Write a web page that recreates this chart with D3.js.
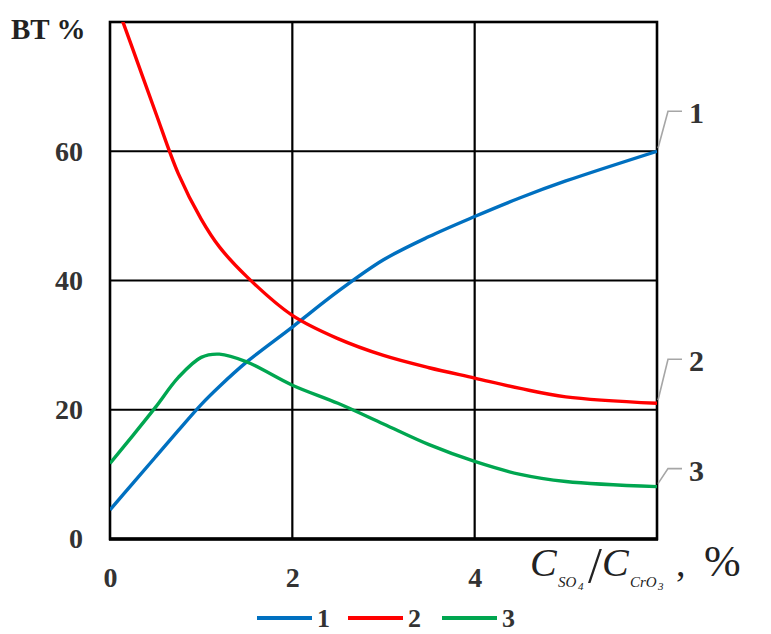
<!DOCTYPE html>
<html>
<head>
<meta charset="utf-8">
<script src="https://cdn.jsdelivr.net/npm/d3@7"></script>
<style>
  html, body { margin: 0; padding: 0; background: #ffffff; }
  svg { display: block; }
</style>
</head>
<body>
<svg id="chart" width="771" height="634"></svg>
<script>
// Ratio C(SO4)/C(CrO3), %
const xValues = [0, 0.25, 0.5, 0.75, 1, 1.2, 1.5, 2, 2.5, 3, 3.5, 4, 4.5, 5, 6];
// Curve 1 (blue)
const series1 = [4.5, 8.6, 12.7, 16.8, 20.8, 23.6, 27.4, 32.8, 38.3, 43.2, 46.8, 49.9, 52.8, 55.4, 60];
// Curve 2 (red)
const series2 = [85.5, 75.8, 66, 56.5, 49.5, 45.2, 40.6, 34.6, 31, 28.4, 26.5, 24.9, 23.3, 22, 21];
// Curve 3 (green)
const series3 = [11.7, 16, 20.4, 25, 28.1, 28.6, 27.4, 23.8, 21, 17.8, 14.6, 12, 10, 8.9, 8.1];

const seriesNames = ["1", "2", "3"];
const seriesColors = ["#0070c0", "#ff0000", "#00a650"];
const xTicks = [0, 2, 4];
const yTicks = [0, 20, 40, 60];
const xGrid = [2, 4];
const yGrid = [20, 40, 60];

const allSeries = [series1, series2, series3];

const svg = d3.select("#chart");
const x = d3.scaleLinear().domain([0, 6]).range([110, 657]);
const y = d3.scaleLinear().domain([0, 80]).range([539, 22]);

const serif = "'Liberation Serif', 'Times New Roman', serif";

svg.append("defs").append("clipPath").attr("id", "plot-clip")
  .append("rect")
  .attr("x", x(0)).attr("y", y(80))
  .attr("width", x(6) - x(0)).attr("height", y(0) - y(80));

// Grid lines
const grid = svg.append("g").attr("stroke", "#000").attr("stroke-width", 2.2);
grid.selectAll("line.v").data(xGrid).join("line")
  .attr("class", "v")
  .attr("x1", d => x(d)).attr("x2", d => x(d))
  .attr("y1", y(80)).attr("y2", y(0));
grid.selectAll("line.h").data(yGrid).join("line")
  .attr("class", "h")
  .attr("x1", x(0)).attr("x2", x(6))
  .attr("y1", d => y(d)).attr("y2", d => y(d));

// Plot frame
svg.append("rect")
  .attr("x", x(0)).attr("y", y(80))
  .attr("width", x(6) - x(0)).attr("height", y(0) - y(80))
  .attr("fill", "none").attr("stroke", "#000").attr("stroke-width", 2.6);
svg.append("line")
  .attr("x1", x(0) - 1).attr("x2", x(6) + 1)
  .attr("y1", y(0)).attr("y2", y(0))
  .attr("stroke", "#000").attr("stroke-width", 3.4);

// Axes (labels only)
const xAxis = svg.append("g")
  .attr("transform", `translate(0,${y(0)})`)
  .call(d3.axisBottom(x).tickValues(xTicks).tickSize(0).tickPadding(28).tickFormat(d3.format("d")));
const yAxis = svg.append("g")
  .attr("transform", `translate(${x(0)},0)`)
  .call(d3.axisLeft(y).tickValues(yTicks).tickSize(0).tickPadding(27).tickFormat(d3.format("d")));
[xAxis, yAxis].forEach(g => {
  g.select(".domain").remove();
  g.selectAll("text")
    .attr("fill", "#333")
    .style("font-family", serif)
    .style("font-weight", "bold")
    .style("font-size", "28px");
});

// Curves
const line = d3.line()
  .x((d, i) => x(xValues[i]))
  .y(d => y(d))
  .curve(d3.curveCatmullRom.alpha(0.5));

svg.append("g").attr("clip-path", "url(#plot-clip)")
  .selectAll("path").data(allSeries).join("path")
  .attr("d", line)
  .attr("fill", "none")
  .attr("stroke", (d, i) => seriesColors[i])
  .attr("stroke-width", 3.4)
  .attr("stroke-linejoin", "round");

// Curve end labels with leader lines
const endLabels = svg.append("g");
const leaderRise = [40, 44, 18];
allSeries.forEach((s, i) => {
  const xe = x(xValues[xValues.length - 1]);
  const ye = y(s[s.length - 1]);
  const yTop = ye - leaderRise[i];
  endLabels.append("path")
    .attr("d", `M${xe + 1},${ye - 3}L${xe + 11},${yTop}L${xe + 25},${yTop}`)
    .attr("fill", "none").attr("stroke", "#a6a6a6").attr("stroke-width", 1.6);
  endLabels.append("text")
    .attr("x", xe + 32).attr("y", yTop + 12)
    .attr("fill", "#333")
    .style("font-family", serif).style("font-weight", "bold").style("font-size", "30px")
    .text(seriesNames[i]);
});

// Y-axis title
svg.append("text")
  .attr("x", 11).attr("y", 39)
  .attr("fill", "#222")
  .style("font-family", serif).style("font-weight", "bold").style("font-size", "29px")
  .text("BT %");

// X-axis title: C_SO4 / C_CrO3 , %
const titleParts = [
  { t: "C",   x: 530, y: 576, size: 40, italic: true },
  { t: "SO",  x: 558, y: 587, size: 15, italic: true },
  { t: "4",   x: 578, y: 590, size: 11, italic: true },
  { t: "/",   x: 588, y: 582, size: 50, italic: false },
  { t: "C",   x: 602, y: 576, size: 40, italic: true },
  { t: "CrO", x: 630, y: 587, size: 15, italic: true },
  { t: "3",   x: 658, y: 590, size: 11, italic: true },
  { t: ",",   x: 676, y: 576, size: 38, italic: false },
  { t: "%",   x: 704, y: 576, size: 44, italic: false }
];
svg.append("g").attr("fill", "#222")
  .selectAll("text").data(titleParts).join("text")
  .attr("x", d => d.x).attr("y", d => d.y)
  .style("font-family", serif)
  .style("font-style", d => d.italic ? "italic" : "normal")
  .style("font-size", d => d.size + "px")
  .text(d => d.t);

// Legend
const legend = svg.append("g");
const legendX = [257, 348, 442];
seriesNames.forEach((name, i) => {
  legend.append("line")
    .attr("x1", legendX[i]).attr("x2", legendX[i] + 55)
    .attr("y1", 618).attr("y2", 618)
    .attr("stroke", seriesColors[i]).attr("stroke-width", 4);
  legend.append("text")
    .attr("x", legendX[i] + 60).attr("y", 627)
    .attr("fill", "#333")
    .style("font-family", serif).style("font-weight", "bold").style("font-size", "26px")
    .text(name);
});
</script>
</body>
</html>
